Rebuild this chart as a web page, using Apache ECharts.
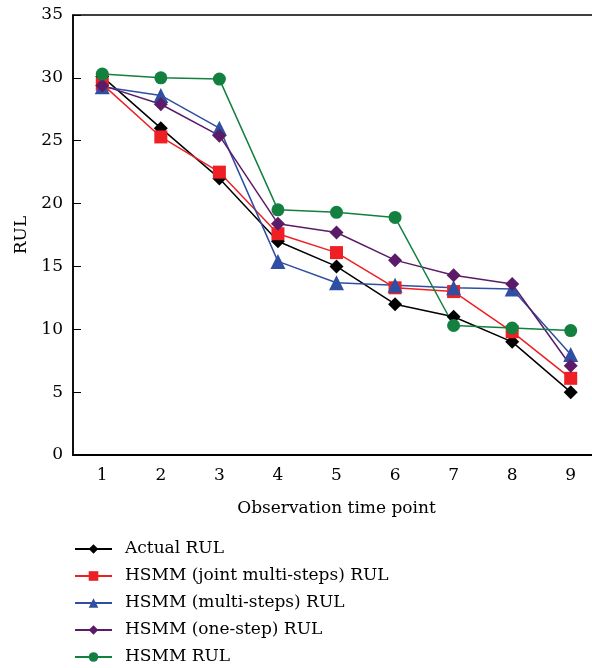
<!DOCTYPE html>
<html>
<head>
<meta charset="utf-8">
<script src="https://cdn.jsdelivr.net/npm/echarts@6/dist/echarts.min.js"></script>
<style>html,body{margin:0;padding:0;background:#fff;}#c{width:592px;height:668px;}</style>
</head>
<body>
<div id="c"></div>
<script>
const categories = ['1','2','3','4','5','6','7','8','9'];
const actualRUL = [30.1, 26.0, 22.0, 17.0, 15.0, 12.0, 11.0, 9.0, 5.0];
const jointMultiRUL = [29.5, 25.3, 22.5, 17.6, 16.1, 13.3, 13.0, 9.8, 6.1];
const multiRUL = [29.3, 28.6, 26.0, 15.4, 13.7, 13.5, 13.3, 13.2, 8.0];
const oneStepRUL = [29.4, 27.9, 25.4, 18.4, 17.7, 15.5, 14.3, 13.6, 7.1];
const hsmmRUL = [30.3, 30.0, 29.9, 19.5, 19.3, 18.9, 10.3, 10.1, 9.9];
const yTicks = [0, 5, 10, 15, 20, 25, 30, 35];

const FONT = 'DejaVu Serif';
const chart = echarts.init(document.getElementById('c'));
function mk(name, data, color, symbol, size) {
  return {
    name, type: 'line', data, symbol, symbolSize: size,
    lineStyle: {color, width: 1.5}, itemStyle: {color},
    emphasis: {disabled: true}, animation: false
  };
}
chart.setOption({
  animation: false,
  textStyle: {fontFamily: FONT},
  grid: {left: 73, top: 15, height: 440, width: 527, outerBoundsMode: 'none', show: true, borderColor: '#000', borderWidth: 1.5, containLabel: false},
  legend: {
    orient: 'vertical', left: 74, top: 540, height: 128, padding: 0, itemWidth: 37, itemHeight: 12, itemGap: 9,
    textStyle: {fontFamily: FONT, fontSize: 17, lineHeight: 18, color: '#000', padding: [0,0,0,8]},
    data: ['Actual RUL', 'HSMM (joint multi-steps) RUL', 'HSMM (multi-steps) RUL', 'HSMM (one-step) RUL', 'HSMM RUL']
  },
  xAxis: {
    type: 'category', data: categories, boundaryGap: true,
    name: 'Observation time point', nameLocation: 'middle', nameGap: 45,
    nameTextStyle: {fontFamily: FONT, fontSize: 17, color: '#000'},
    axisLine: {lineStyle: {color: '#000', width: 2}},
    axisTick: {inside: true, length: 6, lineStyle: {color: '#000', width: 1}},
    axisLabel: {fontFamily: FONT, fontSize: 17, color: '#000', margin: 12},
    splitLine: {show: false}
  },
  yAxis: {
    type: 'value', min: 0, max: 35, interval: 5,
    name: 'RUL', nameLocation: 'middle', nameGap: 40, nameRotate: 90,
    nameTextStyle: {fontFamily: FONT, fontSize: 17, color: '#000'},
    axisLine: {show: true, lineStyle: {color: '#000', width: 1.5}},
    axisTick: {show: true, inside: true, length: 8, lineStyle: {color: '#000', width: 1}},
    axisLabel: {fontFamily: FONT, fontSize: 17, color: '#000', margin: 10,
      formatter: v => yTicks.includes(v) ? String(v) : ''},
    splitLine: {show: false}
  },
  series: [
    mk('Actual RUL', actualRUL, '#000000', 'diamond', 14),
    mk('HSMM (joint multi-steps) RUL', jointMultiRUL, '#ee2024', 'rect', 13),
    mk('HSMM (multi-steps) RUL', multiRUL, '#2f4fa2', 'triangle', 15),
    mk('HSMM (one-step) RUL', oneStepRUL, '#5b1b68', 'diamond', 14),
    mk('HSMM RUL', hsmmRUL, '#13803f', 'circle', 13)
  ]
});
</script>
</body>
</html>
